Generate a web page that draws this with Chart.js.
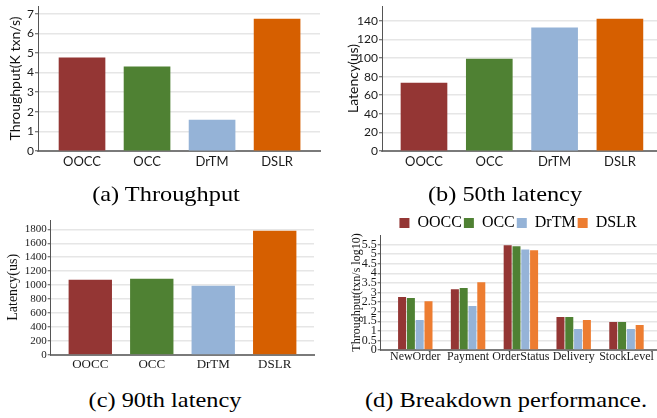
<!DOCTYPE html>
<html>
<head>
<meta charset="utf-8">
<script src="https://cdn.jsdelivr.net/npm/chart.js@4.4.1/dist/chart.umd.min.js"></script>
<style>
body { margin:0; background:#fff; width:657px; height:418px; position:relative; overflow:hidden; }
canvas { position:absolute; }
.cap { position:absolute; font-family:'Liberation Serif','Times New Roman',serif; font-size:21px; line-height:25px; white-space:nowrap; color:#000; transform:translateX(-50%) scaleX(1.16); }
</style>
</head>
<body>
<canvas id="cA" width="328" height="172" style="left:0;top:0"></canvas>
<canvas id="cB" width="327" height="172" style="left:330px;top:0"></canvas>
<canvas id="cC" width="328" height="175" style="left:0;top:200px"></canvas>
<canvas id="cD" width="327" height="175" style="left:330px;top:200px"></canvas>
<div class="cap" style="left:165.5px;top:182px">(a) Throughput</div>
<div class="cap" style="left:505px;top:182px">(b) 50th latency</div>
<div class="cap" style="left:165px;top:388px">(c) 90th latency</div>
<div class="cap" style="left:505.5px;top:388px">(d) Breakdown performance.</div>
<script>
// systems compared
const systems = ['OOCC', 'OCC', 'DrTM', 'DSLR'];
// (a) throughput, K txn/s
const throughput = [4.75, 4.29, 1.58, 6.73];
// (b) 50th percentile latency, us
const lat50 = [73, 99, 132.5, 142];
// (c) 90th percentile latency, us
const lat90 = [1072, 1085, 986, 1775];
// (d) per transaction type, log10(txn/s)
const txTypes = ['NewOrder', 'Payment', 'OrderStatus', 'Delivery', 'StockLevel'];
const bdOOCC = [2.76, 3.17, 5.46, 1.72, 1.46];
const bdOCC  = [2.71, 3.23, 5.41, 1.72, 1.46];
const bdDrTM = [1.56, 2.29, 5.25, 1.09, 1.09];
const bdDSLR = [2.55, 3.54, 5.20, 1.56, 1.30];
// tick labels
const ticksA = [0, 1, 2, 3, 4, 5, 6, 7];
const ticksB = [0, 20, 40, 60, 80, 100, 120, 140];
const ticksC = [0, 200, 400, 600, 800, 1000, 1200, 1400, 1600, 1800];
const ticksD = [0, 0.5, 1, 1.5, 2, 2.5, 3, 3.5, 4, 4.5, 5, 5.5];

const barColors = ['#943634', '#4F8133', '#95B3D7', '#D65F00'];
const bdColors = ['#943634', '#4F8133', '#95B3D7', '#ED7D31'];

const sans = 'Lato';
const serif = 'Liberation Serif';

// x axis: one tick per category, placed on a linear scale
function xAxis(labels, min, max, h, font, pad) {
    return {
        type: 'linear', bounds: 'data', offset: false, min: min, max: max,
        afterBuildTicks: s => { s.ticks = labels.map((c, i) => ({value: i})); },
        afterFit: s => { s.height = h; s.paddingLeft = 0; s.paddingRight = 0; },
        grid: {display: false, drawTicks: false, offset: false},
        border: {color: '#7a7a7a', width: 2},
        ticks: {callback: v => labels[v], font: font, color: '#1a1a1a', padding: pad, maxRotation: 0, autoSkip: false}
    };
}

// y axis with given tick list
function yAxis(list, max, w, font, title, titleFont, titlePad) {
    return {
        bounds: 'data', min: 0, max: max,
        afterBuildTicks: s => { s.ticks = list.map(v => ({value: v})); },
        afterFit: s => { s.width = w; s.paddingTop = 0; s.paddingBottom = 0; },
        grid: {color: '#e6e6e6', lineWidth: 1.5, tickColor: '#555', tickLength: 3, tickWidth: 1},
        border: {color: '#555', width: 1},
        ticks: {callback: v => String(v), font: font, color: '#1a1a1a', padding: 1, autoSkip: false},
        title: {display: true, text: title, font: titleFont, color: '#111', padding: {top: titlePad, bottom: 0}}
    };
}

function singleBars(id, values, thickness, pad, x, y) {
    return new Chart(document.getElementById(id), {
        type: 'bar',
        data: {
            datasets: [{
                data: systems.map((s, i) => ({x: i, y: values[i]})),
                backgroundColor: barColors,
                barThickness: thickness
            }]
        },
        options: {
            responsive: false,
            animation: false,
            layout: {padding: pad},
            plugins: {legend: {display: false}, tooltip: {enabled: false}},
            scales: {x: x, y: y}
        }
    });
}

//(a) throughput
singleBars('cA', throughput, 46, {top: 6, right: 8, left: 0, bottom: 0},
    xAxis(systems, -0.677, 3.66, 21, {family: sans, size: 13}, 3),
    yAxis(ticksA, 7.4, 38, {family: sans, size: 12}, 'Throughput(K txn/s)', {family: sans, size: 14}, 6.6));

//(b) 50th latency
singleBars('cB', lat50, 46, {top: 6, right: 0, left: 0, bottom: 0},
    xAxis(systems, -0.643, 3.568, 21, {family: sans, size: 13}, 3),
    yAxis(ticksB, 156, 52, {family: sans, size: 12}, 'Latency(us)', {family: sans, size: 14}, 14.6));

//(c) 90th latency
singleBars('cC', lat90, 42.7, {top: 20, right: 14, left: 0, bottom: 0},
    xAxis(systems, -0.644, 3.639, 20.3, {family: serif, size: 13}, 2),
    yAxis(ticksC, 1935, 50.7, {family: serif, size: 11}, 'Latency(us)', {family: serif, size: 14}, 4.6));

//(d) breakdown, grouped bars
const bdSeries = [bdOOCC, bdOCC, bdDrTM, bdDSLR];
// legend in the original sits centred over the plot, not the whole canvas
const legendShift = {
    id: 'legendShift',
    afterLayout(chart) {
        chart.legend.left += 14.5;
        chart.legend.right += 14.5;
    }
};
new Chart(document.getElementById('cD'), {
    type: 'bar',
    data: {
        datasets: systems.map((name, k) => ({
            label: name,
            data: txTypes.map((t, i) => ({x: i, y: bdSeries[k][i]})),
            backgroundColor: bdColors[k],
            categoryPercentage: 0.667,
            barPercentage: 0.91
        }))
    },
    options: {
        responsive: false,
        animation: false,
        layout: {padding: {top: 13, right: 0, left: 20, bottom: 0}},
        plugins: {
            tooltip: {enabled: false},
            legend: {
                position: 'top', maxHeight: 22,
                labels: {boxWidth: 10, boxHeight: 10, padding: 2, color: '#000', font: {family: serif, size: 16}}
            }
        },
        scales: {
            x: xAxis(txTypes, -0.655, 4.578, 25, {family: serif, size: 12}, 0),
            y: yAxis(ticksD, 6, 30.7, {family: serif, size: 12}, 'Throughput(txn/s log10)', {family: serif, size: 12}, -0.2)
        }
    },
    plugins: [legendShift]
});
</script>
</body>
</html>
